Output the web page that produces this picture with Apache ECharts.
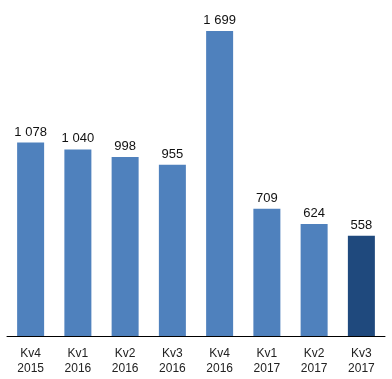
<!DOCTYPE html>
<html>
<head>
<meta charset="utf-8">
<script src="https://cdn.jsdelivr.net/npm/echarts@6/dist/echarts.min.js"></script>
<style>
  html, body { margin: 0; padding: 0; background: #fff; }
  #chart { width: 392px; height: 379px; }
</style>
</head>
<body>
<div id="chart"></div>
<script>
// quarters and values
const quarters = ['Kv4', 'Kv1', 'Kv2', 'Kv3', 'Kv4', 'Kv1', 'Kv2', 'Kv3'];
const years = ['2015', '2016', '2016', '2016', '2016', '2017', '2017', '2017'];
const values = [1078, 1040, 998, 955, 1699, 709, 624, 558];

const categories = quarters.map((q, i) => q + '\n' + years[i]);
const lastIdx = values.length - 1;

const chart = echarts.init(document.getElementById('chart'));
chart.setOption({
  animation: false,
  grid: { left: 7, right: 7, top: 13, bottom: 43, containLabel: false },
  xAxis: {
    type: 'category',
    data: categories,
    axisLine: { lineStyle: { color: '#000', width: 1 } },
    axisTick: { show: false },
    axisLabel: {
      color: '#222',
      fontFamily: '"Liberation Sans Narrow", "Liberation Sans", Arial, sans-serif',
      fontSize: 12,
      lineHeight: 15,
      margin: 10
    }
  },
  yAxis: {
    type: 'value',
    min: 0,
    max: 1800,
    show: false,
    splitLine: { show: false }
  },
  series: [{
    type: 'bar',
    barWidth: 27,
    data: values.map((v, i) => ({
      value: v,
      itemStyle: { color: i === lastIdx ? '#1F497D' : '#4F81BD' }
    })),
    label: {
      show: true,
      position: 'top',
      distance: 4,
      color: '#111',
      fontFamily: '"Liberation Sans", Arial, sans-serif',
      fontSize: 13,
      formatter: p => String(p.value).replace(/\B(?=(\d{3})+(?!\d))/g, ' ')
    }
  }]
});
</script>
</body>
</html>
